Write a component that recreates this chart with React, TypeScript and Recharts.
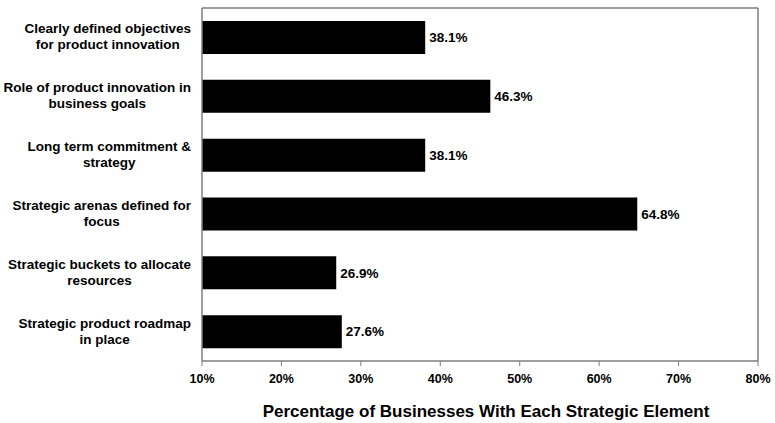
import { BarChart, Bar, XAxis, YAxis, LabelList } from "recharts"

const categories = [
    "Clearly defined objectives|for product innovation",
    "Role of product innovation in|business goals",
    "Long term commitment &|strategy",
    "Strategic arenas defined for|focus",
    "Strategic buckets to allocate|resources",
    "Strategic product roadmap|in place",
]
const percentages = [38.1, 46.3, 38.1, 64.8, 26.9, 27.6]
const xTicks = [10, 20, 30, 40, 50, 60, 70, 80]

const data = categories.map((name, i) => ({ name, value: percentages[i] }))

const FONT = "Liberation Sans, Arial, sans-serif"
const AXIS = "#7f7f7f"
const LABEL_SIZE = 13.5

let ctx: CanvasRenderingContext2D | null = null
function textWidth(s: string) {
    if (!ctx) ctx = document.createElement("canvas").getContext("2d")
    if (!ctx) return s.length * 7
    ctx.font = `bold ${LABEL_SIZE}px ${FONT}`
    return ctx.measureText(s).width
}

function CategoryTick({ x, y, payload }: any) {
    const lines = String(payload.value).split("|")
    const w = Math.max(...lines.map(textWidth))
    const cx = x - 3 - w / 2
    return (
        <text x={cx} y={y} textAnchor="middle" fontFamily={FONT} fontSize={LABEL_SIZE} fontWeight="bold" fill="#000">
            {lines.map((l, i) => (
                <tspan key={i} x={cx} dy={i === 0 ? -4 : 16}>
                    {l}
                </tspan>
            ))}
        </text>
    )
}

export default function App() {
    return (
        <div style={{ position: "absolute", left: 0, top: 0, width: 775, height: 423, background: "#fff" }}>
            <BarChart
                width={775}
                height={423}
                data={data}
                layout="vertical"
                margin={{ top: 7, right: 16, bottom: 0, left: 0 }}
                barSize={33}
            >
                <XAxis
                    xAxisId="main"
                    type="number"
                    domain={[10, 80]}
                    ticks={xTicks}
                    allowDataOverflow
                    height={62}
                    tickFormatter={(v) => `${v}%`}
                    tick={{ fontSize: 12.5, fontWeight: "bold", fill: "#000", fontFamily: FONT }}
                    axisLine={{ stroke: AXIS, strokeWidth: 1.5 }}
                    tickLine={{ stroke: AXIS }}
                    tickSize={5}
                    tickMargin={8}
                    label={{
                        value: "Percentage of Businesses With Each Strategic Element",
                        position: "insideBottom",
                        offset: 6,
                        dx: 6,
                        fontSize: 17,
                        fontWeight: "bold",
                        fill: "#000",
                        fontFamily: FONT,
                    }}
                />
                <XAxis
                    xAxisId="top"
                    orientation="top"
                    type="number"
                    domain={[10, 80]}
                    height={1}
                    tick={false}
                    tickLine={false}
                    axisLine={{ stroke: AXIS, strokeWidth: 1.5 }}
                />
                <YAxis
                    yAxisId="main"
                    type="category"
                    dataKey="name"
                    width={202}
                    tick={<CategoryTick />}
                    tickLine={false}
                    axisLine={{ stroke: AXIS, strokeWidth: 1.5 }}
                    interval={0}
                />
                <YAxis
                    yAxisId="right"
                    orientation="right"
                    type="category"
                    dataKey="name"
                    width={1}
                    tick={false}
                    tickLine={false}
                    axisLine={{ stroke: AXIS, strokeWidth: 1.5 }}
                />
                <Bar xAxisId="main" yAxisId="main" dataKey="value" fill="#000" isAnimationActive={false}>
                    <LabelList
                        dataKey="value"
                        position="right"
                        offset={4}
                        formatter={(v: any) => `${Number(v).toFixed(1)}%`}
                        style={{ fontSize: 13.5, fontWeight: "bold", fill: "#000", fontFamily: FONT }}
                    />
                </Bar>
            </BarChart>
        </div>
    )
}
